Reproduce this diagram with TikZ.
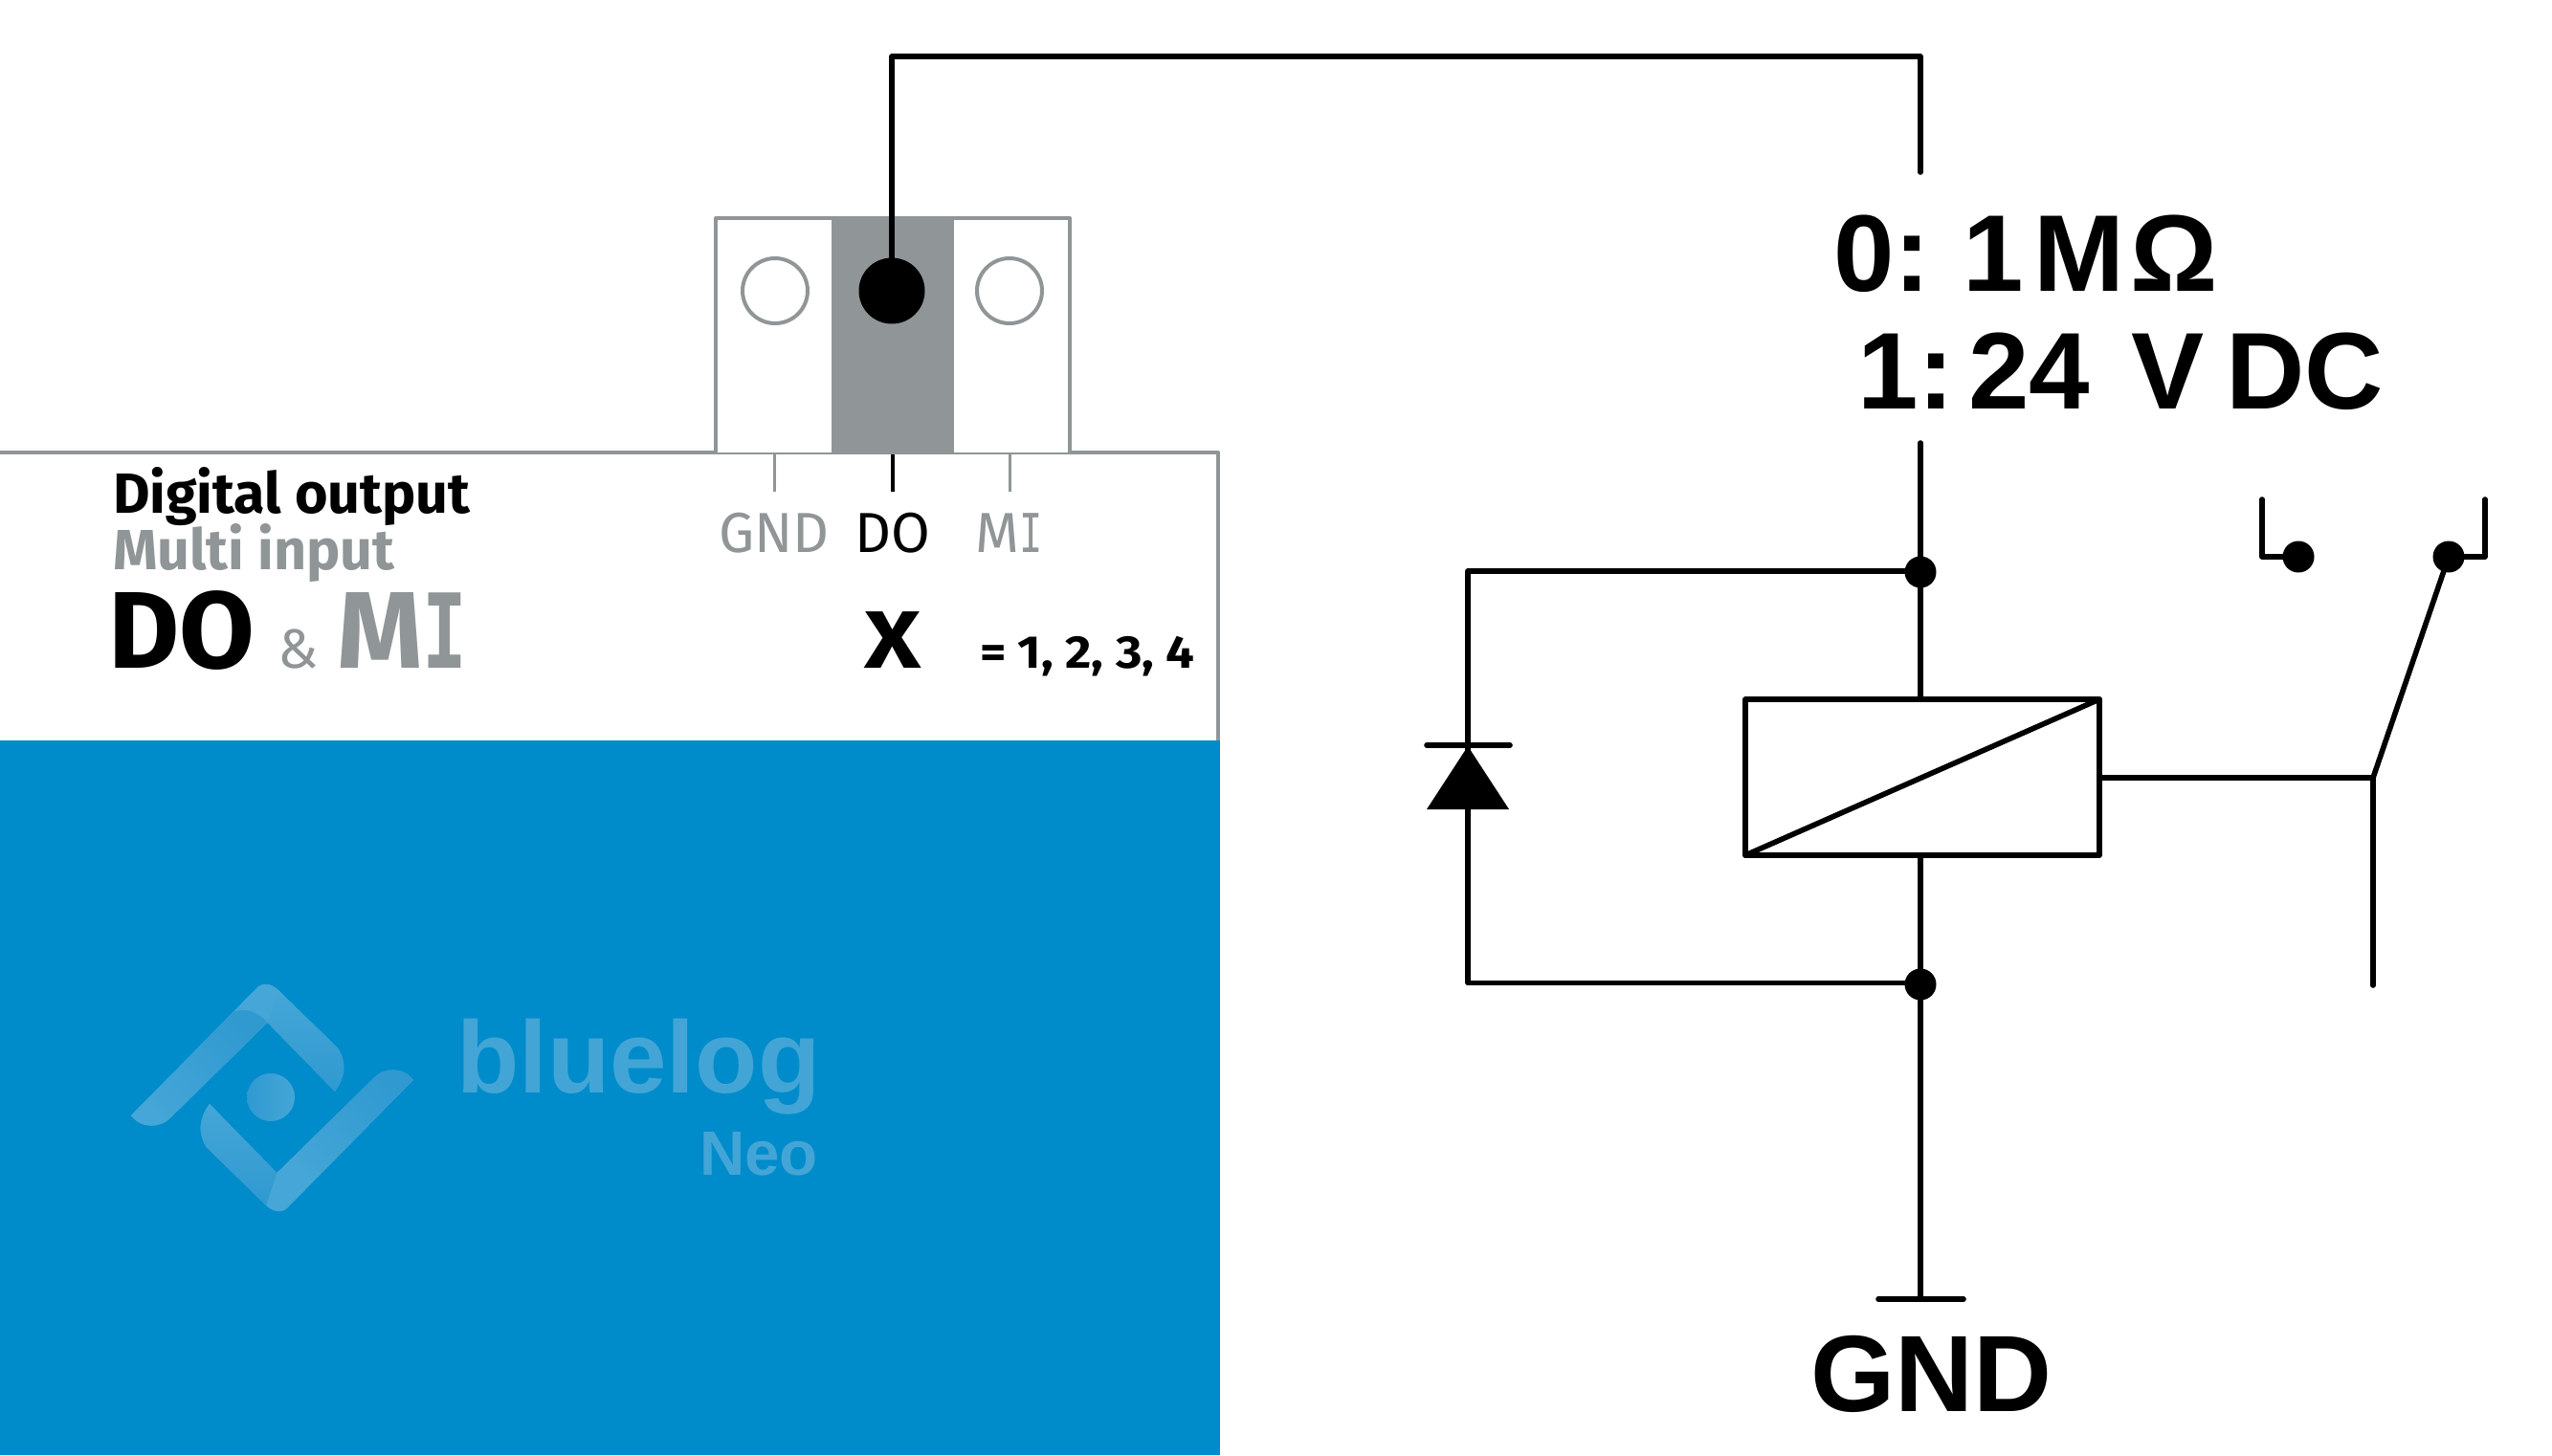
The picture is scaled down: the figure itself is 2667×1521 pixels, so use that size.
\documentclass[tikz,border=0pt]{standalone}
\usepackage{fontspec}
\setmainfont{Liberation Sans}
\newfontfamily\plex{Fira Sans}
\newfontfamily\slab{DejaVu Sans Mono}
\definecolor{devgray}{HTML}{909597}
\definecolor{devblue}{HTML}{008BCB}
\definecolor{logoA}{HTML}{45A6D7}
\definecolor{logoB}{HTML}{2F99D0}
\newcommand{\slabI}{\scalebox{0.72}[1]{\slab I}}
\tikzset{
  wire/.style={draw=black,line width=5.6pt,line cap=round,line join=round},
  grayline/.style={draw=devgray,line width=4pt,line join=round},
  stub/.style={draw=devgray,line width=3pt},
  dotnode/.style={circle,fill=black,inner sep=0pt,minimum size=33pt},
  txt/.style={inner sep=0pt,outer sep=0pt,anchor=base west},
  pinlabel/.style={inner sep=0pt,outer sep=0pt,anchor=base,font=\plex\fontsize{59}{59}\selectfont},
  bigtext/.style={txt,font=\bfseries\fontsize{114}{114}\selectfont},
  hole/.style={circle,draw=devgray,line width=4pt,fill=white,inner sep=0pt,minimum size=68pt},
}
\begin{document}
\begin{tikzpicture}[x=1pt,y=-1pt]
\useasboundingbox (0,0) rectangle (2667,1521);
% device
\fill[white] (0,0) rectangle (2667,1521);
\fill[devblue] (0,774) rectangle (1275,1521);
\coordinate (devL) at (0,473);
\coordinate (devR) at (1273,473);
\coordinate (devRb) at (1273,774);
\draw[grayline] (devL) -- (devR) -- (devRb);
% connector block
\draw[grayline,fill=white] (748,473) -- (748,228) -- (1118,228) -- (1118,473);
\fill[devgray] (869,226) rectangle (997,475);
\node[hole] (holeGND) at (810,304) {};
\node[hole] (holeMI) at (1055,304) {};
\node[circle,fill=black,inner sep=0pt,minimum size=69pt] (holeDO) at (932,304) {};
% stubs
\coordinate (stubGa) at (809,475); \coordinate (stubGb) at (809,514);
\coordinate (stubDa) at (933,475); \coordinate (stubDb) at (933,514);
\coordinate (stubMa) at (1055,475); \coordinate (stubMb) at (1055,514);
\draw[stub] (stubGa) -- (stubGb);
\draw[stub] (stubMa) -- (stubMb);
\draw[draw=black,line width=4pt] (stubDa) -- (stubDb);
\node[pinlabel,text=devgray] (lGND) at (809,577) {GND};
\node[pinlabel,text=black] (lDO) at (933,577) {DO};
\node[pinlabel,text=devgray] (lMI) at (1055,577) {M\scalebox{0.72}[1]{\fontsize{56}{56}\slab I}};
% left labels
\node[txt,font=\plex\bfseries\fontsize{59.2}{59.2}\selectfont] (t1) at (118,536) {Digital output};
\node[txt,font=\plex\bfseries\fontsize{59.2}{59.2}\selectfont,text=devgray] (t2) at (118,595) {Multi input};
\node[txt,font=\plex\bfseries\fontsize{114}{114}\selectfont] (t3) at (113,698) {DO};
\node[txt,font=\plex\fontsize{58}{58}\selectfont,text=devgray] (t4) at (290,698) {\&};
\node[txt,font=\plex\bfseries\fontsize{114}{114}\selectfont,text=devgray] (t5) at (352,698) {M\fontsize{108}{108}\slabI};
\node[anchor=base,inner sep=0pt,font=\plex\bfseries\fontsize{85}{85}\selectfont] (t6) at (933,698) {\scalebox{1.2}[1]{X}};
\node[txt,font=\plex\bfseries\fontsize{48}{48}\selectfont] (t7) at (1024,698) {\scalebox{1.1}[1]{= 1, 2, 3, 4}};
% logo
\begin{scope}
\fill[logoA] (137,1166) -- (268,1033) .. controls (273,1027) and (283,1027) .. (291,1035) -- (352.5,1095) .. controls (362,1108) and (362,1125) .. (350,1141) -- (279.6,1069) -- (176.5,1170) .. controls (168,1178) and (148,1181) .. (137,1166) -- cycle;
\shade[left color=logoB,right color=logoA,shading angle=-45] (245,1057) .. controls (258,1054) and (270,1058) .. (279.6,1069) -- (176.5,1170) .. controls (168,1178) and (148,1181) .. (137,1166) -- cycle;
\shade[top color=logoA,bottom color=logoB] (310,1054) -- (352.5,1095) .. controls (362,1108) and (362,1125) .. (350,1141) -- (279.6,1069) -- (291,1035) -- cycle;
\end{scope}
\begin{scope}[shift={(569,2295)},xscale=-1,yscale=-1]
\fill[logoA] (137,1166) -- (268,1033) .. controls (273,1027) and (283,1027) .. (291,1035) -- (352.5,1095) .. controls (362,1108) and (362,1125) .. (350,1141) -- (279.6,1069) -- (176.5,1170) .. controls (168,1178) and (148,1181) .. (137,1166) -- cycle;
\shade[left color=logoB,right color=logoA,shading angle=-45] (245,1057) .. controls (258,1054) and (270,1058) .. (279.6,1069) -- (176.5,1170) .. controls (168,1178) and (148,1181) .. (137,1166) -- cycle;
\shade[top color=logoA,bottom color=logoB] (310,1054) -- (352.5,1095) .. controls (362,1108) and (362,1125) .. (350,1141) -- (279.6,1069) -- (291,1035) -- cycle;
\end{scope}
\node[circle,inner sep=0pt,minimum size=50pt,left color=logoB,right color=logoA] (logoDot) at (283,1147) {};
\node[txt,font=\bfseries\fontsize{107}{107}\selectfont,text=logoA!90!logoB] (blue) at (477,1142) {bluelog};
\node[txt,font=\bfseries\fontsize{65.5}{65.5}\selectfont,text=logoA!90!logoB] (neo) at (731,1228) {Neo};
% top wire
\coordinate (wTopL) at (932,59);
\coordinate (wTopR) at (2007,59);
\coordinate (wEnd) at (2007,180);
\draw[wire] (holeDO.center) -- (wTopL) -- (wTopR) -- (wEnd);
% voltage text
\node[bigtext] (v1) at (1916,304) {0:\hspace{-8pt} 1\hspace{11pt}M\hspace{6pt}Ω};
\node[bigtext] (v2) at (1941,427) {1:\hspace{15pt}24\hspace{43pt}V\hspace{23pt}DC};
% relay
\coordinate (lowStub) at (2007,463);
\node[dotnode] (jTop) at (2007,598) {};
\node[dotnode] (jBot) at (2007,1029) {};
\coordinate (relTop) at (2007,731);
\coordinate (relBot) at (2007,894);
\coordinate (dTL) at (1534,597);
\coordinate (dBL) at (1534,1027.5);
\coordinate (jTopW) at (2007,597);
\coordinate (jBotW) at (2007,1027.5);
\coordinate (gndTop) at (2007,1358);
\coordinate (gndL) at (1963,1358);
\coordinate (gndR) at (2052,1358);
\draw[wire] (lowStub) -- (jTop.center) -- (relTop);
\draw[wire] (relBot) -- (jBot.center) -- (gndTop);
\draw[wire] (gndL) -- (gndR);
\draw[wire] (jTopW) -- (dTL) -- (dBL) -- (jBotW);
% relay box
\coordinate (boxA) at (1824,731);
\coordinate (boxB) at (2194,731);
\coordinate (boxC) at (2194,894);
\coordinate (boxD) at (1824,894);
\draw[wire,fill=white] (boxA) -- (boxB) -- (boxC) -- (boxD) -- cycle;
\draw[wire] (boxD) -- (boxB);
% diode
\coordinate (barL) at (1491,779);
\coordinate (barR) at (1578,779);
\draw[wire] (barL) -- (barR);
\coordinate (triA) at (1534,780);
\coordinate (triB) at (1491,846);
\coordinate (triC) at (1577,846);
\fill[black] (triA) -- (triB) -- (triC) -- cycle;
% contact
\coordinate (cWire) at (2194,813);
\coordinate (cHub) at (2480,813);
\coordinate (cBot) at (2480,1030);
\draw[wire] (cWire) -- (cHub) -- (cBot);
\node[dotnode] (cNC) at (2402,582) {};
\node[dotnode] (cNO) at (2559,582) {};
\coordinate (brL) at (2364,522);
\coordinate (brLc) at (2364,582);
\coordinate (brR) at (2597,522);
\coordinate (brRc) at (2597,582);
\draw[wire] (brL) -- (brLc) -- (cNC.center);
\draw[wire] (brR) -- (brRc) -- (cNO.center);
\draw[wire] (cHub) -- (cNO.center);
\node[txt,font=\bfseries\fontsize{113.5}{113.5}\selectfont] (lblGND) at (1892,1475) {GND};
\end{tikzpicture}
\end{document}
